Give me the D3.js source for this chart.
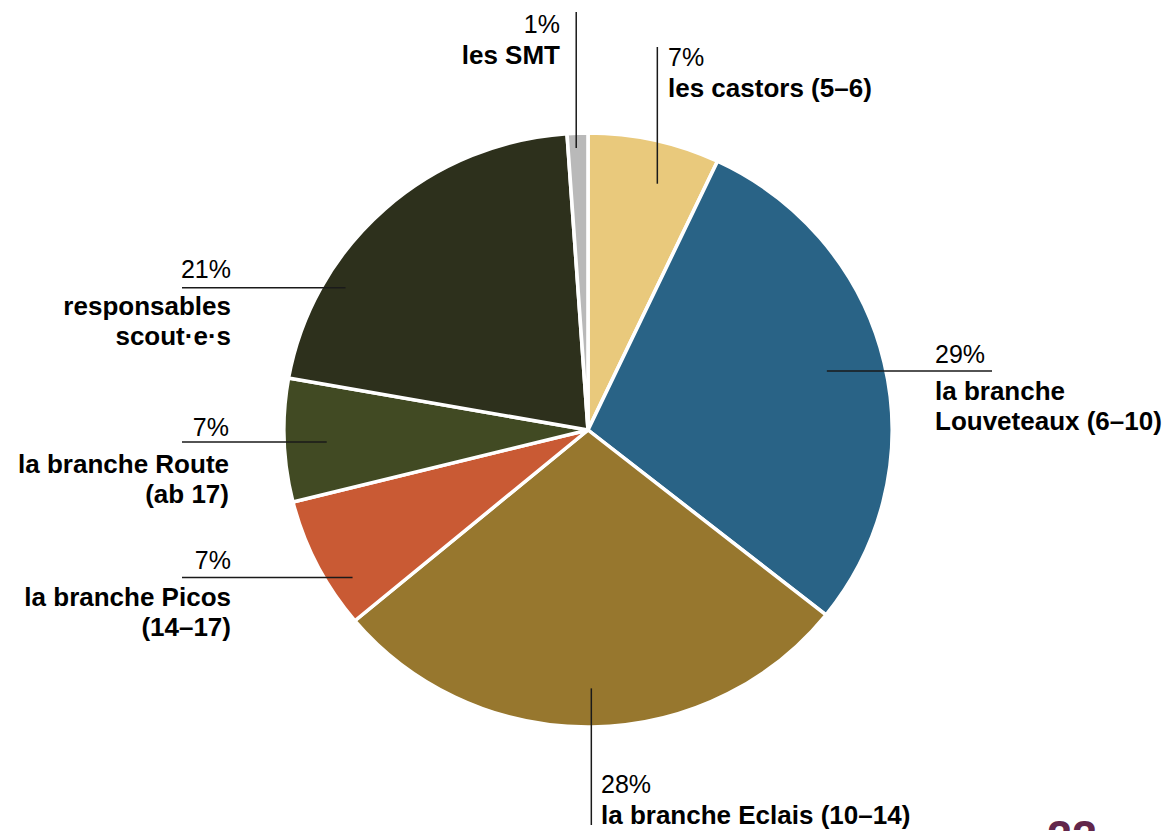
<!DOCTYPE html>
<html>
<head>
<meta charset="utf-8">
<script src="https://cdn.jsdelivr.net/npm/d3@7"></script>
<style>
  body { margin: 0; background: #fff; }
  svg { display: block; }
  text { font-family: "Liberation Sans", Arial, sans-serif; fill: #000; }
</style>
</head>
<body>
<svg width="1168" height="831"></svg>
<script>
// slice data, clockwise from 12 o'clock
var categories = ["castors", "louveteaux", "eclais", "picos", "route", "responsables", "smt"];
var shares = [7.0, 28.7, 28.2, 7.2, 6.7, 21.1, 1.1];
var percentLabels = ["7%", "29%", "28%", "7%", "7%", "21%", "1%"];
var nameLabels = [
    ["les castors (5–6)"],
    ["la branche", "Louveteaux (6–10)"],
    ["la branche Eclais (10–14)"],
    ["la branche Picos", "(14–17)"],
    ["la branche Route", "(ab 17)"],
    ["responsables", "scout·e·s"],
    ["les SMT"]
];
var colors = ["#e9c97c", "#296386", "#97772e", "#c95a34", "#414a23", "#2d301c", "#b9b9b9"];

// label placement: where on the slice the leader starts, which way it goes, where it ends
var layout = [
    { pos: 0.61, rf: 0.86, dir: "up",    end: 47,  tx: 668, ty: 66,  anchor: "start" },
    { pos: 0.49, rf: 0.81, dir: "right", end: 992, tx: 935, ty: 363, anchor: "start" },
    { pos: 0.5,  rf: 0.87, dir: "down",  end: 825, tx: 601, ty: 793, anchor: "start" },
    { pos: 0.28, rf: 0.92, dir: "left",  end: 182, tx: 231, ty: 569, anchor: "end" },
    { pos: 0.47, rf: 0.86, dir: "left",  end: 182, tx: 229, ty: 436, anchor: "end" },
    { pos: 0.275, rf: 0.93, dir: "left", end: 182, tx: 231, ty: 278, anchor: "end" },
    { pos: 0.41, rf: 0.95, dir: "up",    end: 12,  tx: 560, ty: 33,  anchor: "end" }
];

var svg = d3.select("svg");
var cx = 588, cy = 430, r = 297, sx = 1.024;

var pie = d3.pie().sort(null).value(function(d) { return d; });
var arcs = pie(shares);

var arc = d3.arc().innerRadius(0).outerRadius(r);

var g = svg.append("g")
    .attr("transform", "translate(" + cx + "," + cy + ") scale(" + sx + ",1)");

g.selectAll("path")
    .data(arcs)
    .enter().append("path")
    .attr("d", arc)
    .attr("fill", function(d, i) { return colors[i]; })
    .attr("stroke", "#fff")
    .attr("stroke-width", 3.5)
    .attr("stroke-linejoin", "round");

// leader lines + labels
var labels = svg.append("g");

arcs.forEach(function(d, i) {
    var L = layout[i];
    var a = d.startAngle + (d.endAngle - d.startAngle) * L.pos;
    var x0 = cx + sx * r * L.rf * Math.sin(a);
    var y0 = cy - r * L.rf * Math.cos(a);
    var x1 = x0, y1 = y0;
    if (L.dir == "left" || L.dir == "right") x1 = L.end;
    else y1 = L.end;

    labels.append("line")
        .attr("x1", x0).attr("y1", y0)
        .attr("x2", x1).attr("y2", y1)
        .attr("stroke", "#1a1a1a")
        .attr("stroke-width", 1.5);

    labels.append("text")
        .attr("x", L.tx)
        .attr("y", L.ty)
        .attr("text-anchor", L.anchor)
        .attr("font-size", "25px")
        .text(percentLabels[i]);

    var gap = (L.dir == "left" || L.dir == "right") ? 37 : 31;
    nameLabels[i].forEach(function(line, j) {
        labels.append("text")
            .attr("x", L.tx)
            .attr("y", L.ty + gap + j * 30)
            .attr("text-anchor", L.anchor)
            .attr("font-size", "26px")
            .attr("font-weight", "bold")
            .text(line);
    });
});

// page number, cut off by the bottom edge
svg.append("text")
    .attr("x", 1047)
    .attr("y", 852)
    .attr("font-size", "45px")
    .attr("font-weight", "bold")
    .style("fill", "#62264b")
    .text("22");
</script>
</body>
</html>
